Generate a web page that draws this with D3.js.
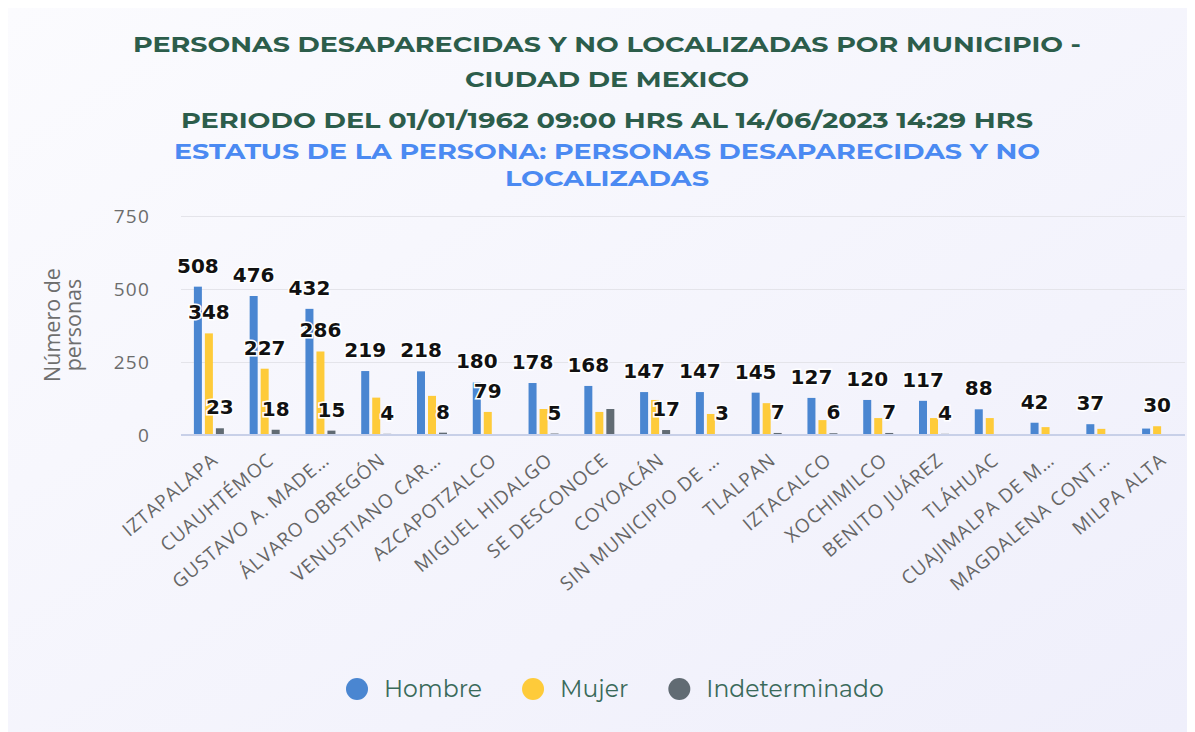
<!DOCTYPE html>
<html lang="es">
<head>
<meta charset="UTF-8">
<title>Personas desaparecidas por municipio</title>
<style>
    body { margin: 0; background: #fff; }
    svg { display: block; }
</style>
</head>
<body>
<div id="chart"></div>
<script src="https://cdn.jsdelivr.net/npm/d3@7"></script>
<script>
    // etiquetas del eje tal como aparecen (recortadas)
    var municipios = ["IZTAPALAPA", "CUAUHTÉMOC", "GUSTAVO A. MADE…", "ÁLVARO OBREGÓN", "VENUSTIANO CAR…",
        "AZCAPOTZALCO", "MIGUEL HIDALGO", "SE DESCONOCE", "COYOACÁN", "SIN MUNICIPIO DE …", "TLALPAN",
        "IZTACALCO", "XOCHIMILCO", "BENITO JUÁREZ", "TLÁHUAC", "CUAJIMALPA DE M…", "MAGDALENA CONT…", "MILPA ALTA"];

    var hombre = [508, 476, 432, 219, 218, 180, 178, 168, 147, 147, 145, 127, 120, 117, 88, 42, 37, 22];
    var mujer = [348, 227, 286, 128, 134, 79, 89, 79, 120, 72, 109, 51, 58, 58, 58, 27, 21, 30];
    var indeterminado = [23, 18, 15, 4, 8, null, 5, 89, 17, 3, 7, 6, 7, 4, null, null, null, null];

    var yTicks = [0, 250, 500, 750];

    var titulo = ["PERSONAS DESAPARECIDAS Y NO LOCALIZADAS POR MUNICIPIO -", "CIUDAD DE MEXICO",
        "PERIODO DEL 01/01/1962 09:00 HRS AL 14/06/2023 14:29 HRS"];
    var subtitulo = ["ESTATUS DE LA PERSONA: PERSONAS DESAPARECIDAS Y NO", "LOCALIZADAS"];
    var yTitulo = ["Número de", "personas"];

    var series = [
        {name: "Hombre", values: hombre, color: "#4a86d1"},
        {name: "Mujer", values: mujer, color: "#fecb3a"},
        {name: "Indeterminado", values: indeterminado, color: "#616b73"}
    ];

    var width = 1195, height = 732;
    var plotL = 181, plotR = 1185, plotT = 216, plotB = 435;
    var green = "#2c5d4b", blue = "#4b8af2";

    var svg = d3.select("#chart").append("svg")
        .attr("width", width)
        .attr("height", height);

    // fondo de la tarjeta
    var grad = svg.append("defs").append("linearGradient")
        .attr("id", "bg").attr("x1", "0").attr("y1", "0").attr("x2", "1").attr("y2", "1");
    grad.append("stop").attr("offset", "0%").attr("stop-color", "#fbfbfe");
    grad.append("stop").attr("offset", "100%").attr("stop-color", "#efeffb");

    svg.append("rect")
        .attr("x", 8).attr("y", 8)
        .attr("width", 1179).attr("height", 724)
        .attr("fill", "url(#bg)");

    // titulos
    var titleFont = "Montserrat, 'DejaVu Sans', sans-serif";
    var titleLines = [
        {text: titulo[0], y: 52, w: 948, color: green},
        {text: titulo[1], y: 87, w: 284, color: green},
        {text: titulo[2], y: 128, w: 852, color: green},
        {text: subtitulo[0], y: 159, w: 866, color: blue},
        {text: subtitulo[1], y: 186, w: 204, color: blue}
    ];
    svg.selectAll(".title")
        .data(titleLines)
        .enter().append("text")
        .attr("class", "title")
        .attr("x", 607)
        .attr("y", function (d) { return d.y; })
        .attr("text-anchor", "middle")
        .attr("textLength", function (d) { return d.w; })
        .attr("lengthAdjust", "spacingAndGlyphs")
        .style("font-family", titleFont)
        .style("font-weight", "bold")
        .style("font-size", "22px")
        .style("fill", function (d) { return d.color; })
        .text(function (d) { return d.text; });

    // escalas
    var x = d3.scaleBand().domain(municipios).range([plotL, plotR]);
    var y = d3.scaleLinear().domain([0, 750]).range([plotB, plotT]);

    // eje y con cuadricula
    var yAxisG = svg.append("g")
        .attr("transform", "translate(" + plotL + ",0)")
        .call(d3.axisLeft(y).tickValues(yTicks).tickSize(-(plotR - plotL)).tickPadding(31));
    yAxisG.select(".domain").remove();
    yAxisG.selectAll(".tick line").attr("stroke", "#e4e4ea");
    yAxisG.selectAll(".tick text")
        .style("font-family", "'Open Sans', sans-serif")
        .style("font-size", "19px")
        .style("letter-spacing", "1.2px")
        .style("fill", "#6c6c6c");

    // titulo eje y
    svg.append("g")
        .selectAll("text")
        .data(yTitulo)
        .enter().append("text")
        .attr("transform", function (d, i) { return "translate(" + (60 + i * 21) + ",325) rotate(-90)"; })
        .attr("text-anchor", "middle")
        .style("font-family", "'Open Sans', sans-serif")
        .style("font-size", "21.5px")
        .style("fill", "#6e6e6e")
        .text(function (d) { return d; });

    // eje x
    var xAxisG = svg.append("g")
        .attr("transform", "translate(0," + plotB + ")")
        .call(d3.axisBottom(x).tickSize(0));
    xAxisG.select(".domain").remove();
    xAxisG.selectAll(".tick text")
        .attr("x", 0).attr("y", 0).attr("dy", "0.35em")
        .attr("transform", "translate(6,22) rotate(-40)")
        .style("text-anchor", "end")
        .style("font-family", "'Open Sans', sans-serif")
        .style("font-size", "19px")
        .style("letter-spacing", "1px")
        .style("fill", "#666");

    // barras
    var barW = 8, step = 11;
    var bars = [];
    series.forEach(function (s, si) {
        s.values.forEach(function (v, i) {
            if (v == null) return;
            bars.push({
                serie: s, value: v,
                cx: x(municipios[i]) + x.bandwidth() / 2 + (si - 1) * step
            });
        });
    });

    svg.append("g")
        .selectAll("rect")
        .data(bars)
        .enter().append("rect")
        .attr("x", function (d) { return d.cx - barW / 2; })
        .attr("y", function (d) { return y(d.value); })
        .attr("width", barW)
        .attr("height", function (d) { return y(0) - y(d.value); })
        .attr("fill", function (d) { return d.serie.color; });

    // linea base encima de las barras
    svg.append("line")
        .attr("x1", plotL).attr("x2", plotR)
        .attr("y1", y(0)).attr("y2", y(0))
        .attr("stroke", "#c8d0e8").attr("stroke-width", 2);

    // etiquetas: las de barras mayores tienen prioridad, se ocultan las que se enciman
    var labelG = svg.append("g");
    var labels = labelG.selectAll("text")
        .data(bars)
        .enter().append("text")
        .attr("x", function (d) { return d.cx; })
        .attr("y", function (d) { return y(d.value) - 14; })
        .attr("text-anchor", "middle")
        .style("font-family", "'DejaVu Sans', sans-serif")
        .style("font-weight", "bold")
        .style("font-size", "20px")
        .style("fill", "#111")
        .style("stroke", "#fff")
        .style("stroke-width", "3px")
        .style("paint-order", "stroke")
        .text(function (d) { return d.value; });

    labels.each(function (d) {
        var w = this.getComputedTextLength() + 2;
        d.box = {x0: d.cx - w / 2, x1: d.cx + w / 2, y1: y(d.value) - 5, y0: y(d.value) - 5 - 28};
    });
    var shown = [];
    bars.slice().sort(function (a, b) { return b.value - a.value; }).forEach(function (d) {
        var hit = shown.some(function (o) {
            return d.box.x0 < o.box.x1 && o.box.x0 < d.box.x1 && d.box.y0 < o.box.y1 && o.box.y0 < d.box.y1;
        });
        d.visible = !hit;
        if (!hit) shown.push(d);
    });
    labels.style("display", function (d) { return d.visible ? null : "none"; });

    // leyenda
    var legend = svg.append("g");
    var lx = 346;
    series.forEach(function (s) {
        var item = legend.append("g").attr("transform", "translate(" + lx + ",689)");
        item.append("circle").attr("cx", 11).attr("cy", 0).attr("r", 11).attr("fill", s.color);
        var t = item.append("text")
            .attr("x", 38).attr("y", 0).attr("dy", "0.35em")
            .style("font-family", "Montserrat, 'DejaVu Sans', sans-serif")
            .style("font-size", "23.5px")
            .style("fill", "#3a6a5a")
            .text(s.name);
        lx += 38 + t.node().getComputedTextLength() + 40;
    });
</script>
</body>
</html>
